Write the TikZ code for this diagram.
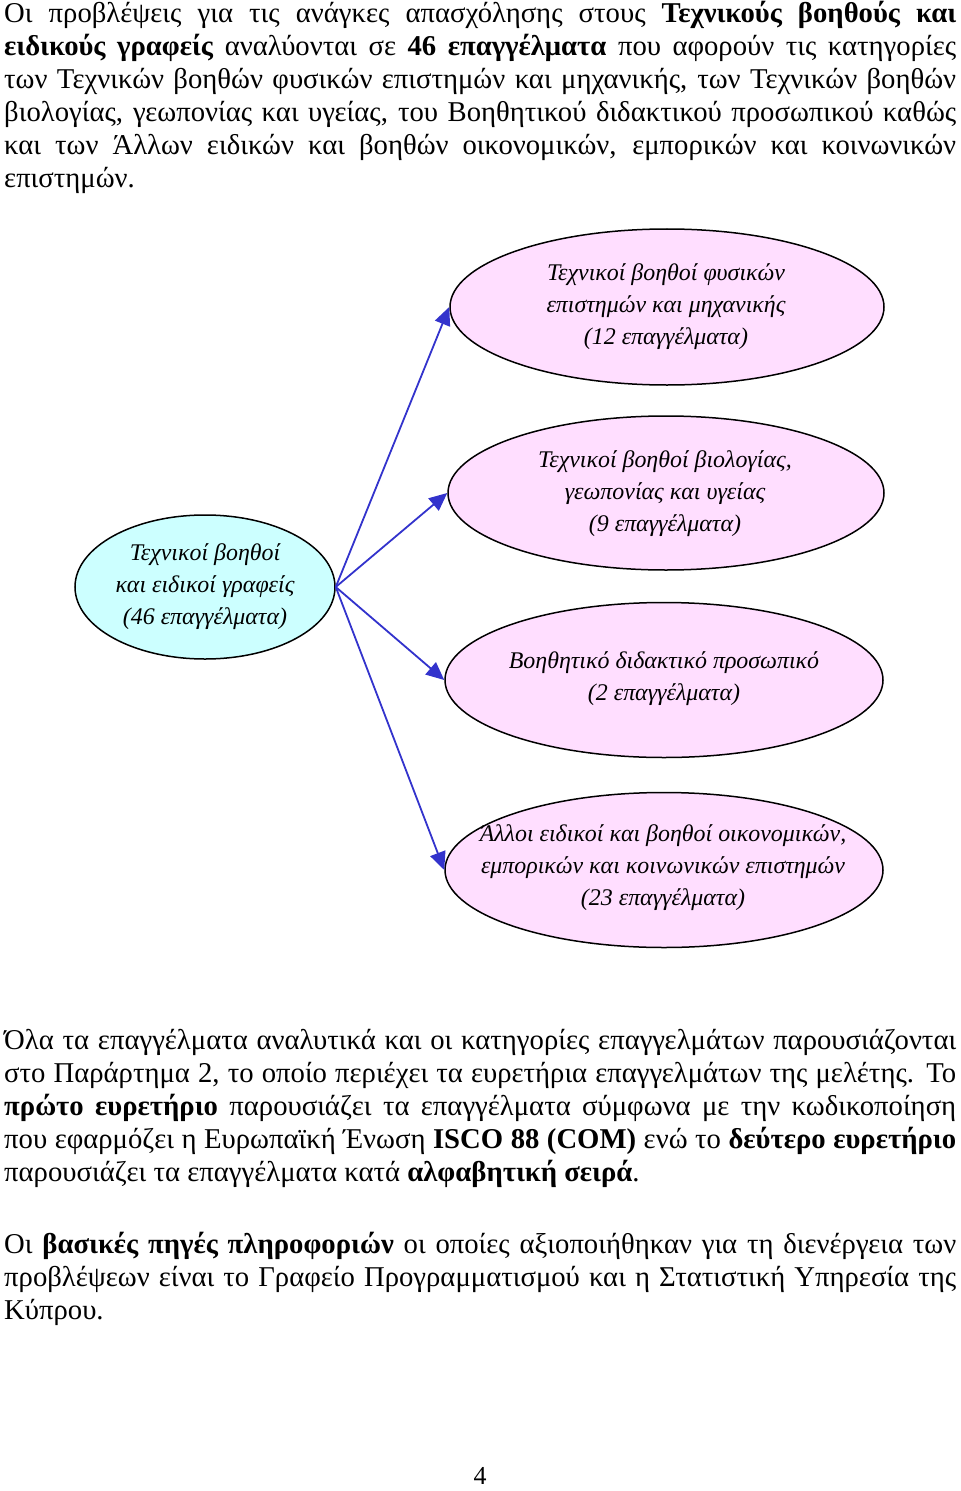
\documentclass[tikz,border=0pt]{standalone}
\usepackage{fontspec}
\setmainfont{Liberation Serif}
\usetikzlibrary{shapes.geometric,arrows.meta}
\definecolor{pinkfill}{RGB}{255,222,255}
\definecolor{cyanfill}{RGB}{204,255,255}
\definecolor{arrowblue}{RGB}{51,51,204}
\newcommand{\jl}[1]{\makebox[952bp][s]{#1}}
\begin{document}
\begin{tikzpicture}[x=1bp,y=-1bp,
  bodyline/.style={anchor=base west,inner sep=0pt,font=\fontsize{28.8}{33}\selectfont},
  bubble/.style={ellipse,draw=black,line width=1.5bp,inner sep=0pt},
  pinkbubble/.style={bubble,fill=pinkfill},
  cyanbubble/.style={bubble,fill=cyanfill},
  bubbletext/.style={align=center,inner sep=0pt,font=\fontsize{24}{32}\selectfont\itshape},
  conn/.style={draw=arrowblue,line width=1.8bp,-{Triangle[length=18bp,width=16bp]}}]
\useasboundingbox (0,0) rectangle (960,1491);
% paragraph 1
\node[bodyline] (p1a) at (4,23) {\jl{Οι προβλέψεις για τις ανάγκες απασχόλησης στους \textbf{Τεχνικούς βοηθούς και}}};
\node[bodyline] (p1b) at (4,56) {\jl{\textbf{ειδικούς γραφείς} αναλύονται σε \textbf{46 επαγγέλματα} που αφορούν τις κατηγορίες}};
\node[bodyline] (p1c) at (4,89) {\jl{των Τεχνικών βοηθών φυσικών επιστημών και μηχανικής, των Τεχνικών βοηθών}};
\node[bodyline] (p1d) at (4,122) {\jl{βιολογίας, γεωπονίας και υγείας, του Βοηθητικού διδακτικού προσωπικού καθώς}};
\node[bodyline] (p1e) at (4,155) {\jl{και των Άλλων ειδικών και βοηθών οικονομικών, εμπορικών και κοινωνικών}};
\node[bodyline] (p1f) at (4,188) {επιστημών.};
% diagram
\node[cyanbubble,minimum width=260bp,minimum height=144bp] (src) at (205,587) {};
\node[pinkbubble,minimum width=434bp,minimum height=156bp] (t1) at (667,307) {};
\node[pinkbubble,minimum width=436bp,minimum height=154bp] (t2) at (666,493) {};
\node[pinkbubble,minimum width=438bp,minimum height=155bp] (t3) at (664,680) {};
\node[pinkbubble,minimum width=438bp,minimum height=155bp] (t4) at (664,870) {};
\node[bubbletext] (srct) at (205,587) {Τεχνικοί βοηθοί\\και ειδικοί γραφείς\\(46 επαγγέλματα)};
\node[bubbletext] (t1t) at (666,307) {Τεχνικοί βοηθοί φυσικών\\επιστημών και μηχανικής\\(12 επαγγέλματα)};
\node[bubbletext] (t2t) at (665,494) {Τεχνικοί βοηθοί βιολογίας,\\γεωπονίας και υγείας\\(9 επαγγέλματα)};
\node[bubbletext] (t3t) at (664,679) {Βοηθητικό διδακτικό προσωπικό\\(2 επαγγέλματα)};
\node[bubbletext] (t4t) at (663,868) {Άλλοι ειδικοί και βοηθοί οικονομικών,\\εμπορικών και κοινωνικών επιστημών\\(23 επαγγέλματα)};
\draw[conn] (src.east) -- (t1.west);
\draw[conn] (src.east) -- (t2.west);
\draw[conn] (src.east) -- (t3.west);
\draw[conn] (src.east) -- (t4.west);
% paragraph 2
\node[bodyline] (p2a) at (4,1049) {\jl{Όλα τα επαγγέλματα αναλυτικά και οι κατηγορίες επαγγελμάτων παρουσιάζονται}};
\node[bodyline] (p2b) at (4,1082) {\jl{στο Παράρτημα 2, το οποίο περιέχει τα ευρετήρια επαγγελμάτων της μελέτης. Το}};
\node[bodyline] (p2c) at (4,1115) {\jl{\textbf{πρώτο ευρετήριο} παρουσιάζει τα επαγγέλματα σύμφωνα με την κωδικοποίηση}};
\node[bodyline] (p2d) at (4,1148) {\jl{που εφαρμόζει η Ευρωπαϊκή Ένωση \textbf{ISCO 88 (COM)} ενώ το \textbf{δεύτερο ευρετήριο}}};
\node[bodyline] (p2e) at (4,1181) {παρουσιάζει τα επαγγέλματα κατά \textbf{αλφαβητική σειρά}.};
% paragraph 3
\node[bodyline] (p3a) at (4,1253) {\jl{Οι \textbf{βασικές πηγές πληροφοριών} οι οποίες αξιοποιήθηκαν για τη διενέργεια των}};
\node[bodyline] (p3b) at (4,1286) {\jl{προβλέψεων είναι το Γραφείο Προγραμματισμού και η Στατιστική Υπηρεσία της}};
\node[bodyline] (p3c) at (4,1319) {Κύπρου.};
% page number
\node[anchor=base,inner sep=0pt,font=\fontsize{26}{33}\selectfont] (pg) at (480,1484) {4};
\end{tikzpicture}
\end{document}
